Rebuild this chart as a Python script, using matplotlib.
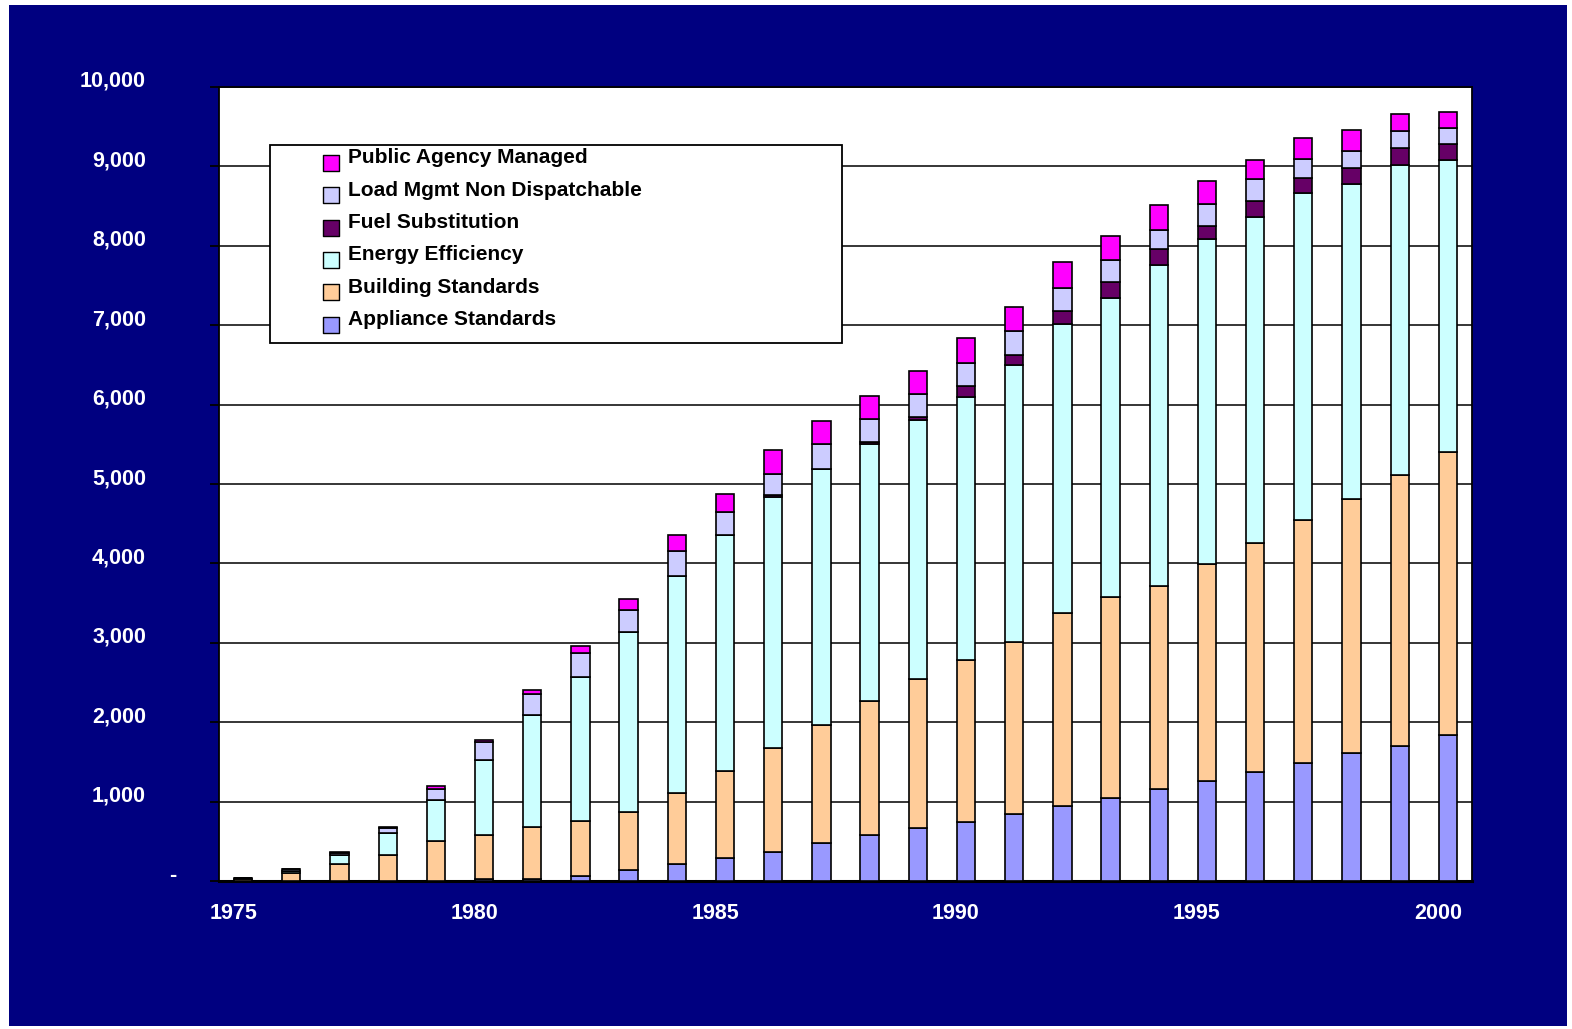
# ========== Librerias ==========
import numpy as np
import matplotlib
matplotlib.use('Agg')
from matplotlib import pyplot as plt
from matplotlib.patches import Rectangle
from matplotlib.lines import Line2D
from matplotlib.path import Path
from matplotlib.markers import MarkerStyle
from matplotlib.transforms import ScaledTranslation

# ========== Datos (MW por año) ==========
years = list(range(1975, 2001))

appliance = [0, 0, 0, 0, 0, 20, 30, 67, 142, 214, 290, 361, 479, 584, 671, 746,
             847, 948, 1040, 1159, 1259, 1378, 1489, 1606, 1703, 1834]
building = [25, 105, 214, 332, 508, 564, 651, 685, 728, 896, 1101, 1316, 1492, 1681,
            1875, 2039, 2168, 2429, 2535, 2556, 2739, 2874, 3062, 3205, 3408, 3563]
efficiency = [10, 25, 118, 273, 509, 946, 1404, 1820, 2265, 2731, 2967, 3158, 3216,
              3235, 3264, 3317, 3484, 3643, 3770, 4048, 4089, 4116, 4110, 3967, 3907, 3686]
fuel = [0, 0, 0, 0, 0, 0, 0, 0, 0, 0, 0, 25, 0, 30, 30, 134, 125, 156, 204, 198,
        168, 195, 195, 208, 215, 195]
load_mgmt = [3, 15, 26, 58, 143, 223, 273, 303, 274, 315, 290, 272, 311, 287, 291,
             288, 298, 294, 273, 239, 273, 273, 240, 208, 208, 208]
public_agency = [4, 12, 12, 13, 33, 29, 42, 83, 138, 198, 232, 290, 290, 294, 294,
                 309, 303, 320, 299, 316, 282, 247, 260, 266, 221, 195]

series_names = ['Appliance Standards', 'Building Standards', 'Energy Efficiency',
                'Fuel Substitution', 'Load Mgmt Non Dispatchable', 'Public Agency Managed']
series_colors = ['#9999FF', '#FFCC99', '#CCFFFF', '#660066', '#CCCCFF', '#FF00FF']

x_tick_years = [1975, 1980, 1985, 1990, 1995, 2000]
y_ticks = list(range(0, 10001, 1000))
y_tick_labels = ['-'] + [f'{v:,}' for v in y_ticks[1:]]

# ========== Figura ==========
plt.rcParams['font.family'] = ['Liberation Sans', 'DejaVu Sans']
plt.rcParams['font.weight'] = 'bold'

W, H = 1572, 1029
fig = plt.figure(figsize=(W / 100, H / 100), dpi=100, facecolor='white')

# fondo azul marino
fig.patches.append(Rectangle((9 / W, 1 - 1026 / H), 1558 / W, 1021 / H,
                             transform=fig.transFigure, facecolor='#000080',
                             edgecolor='none', zorder=-10))

ax = fig.add_axes([219 / W, 1 - 881 / H, 1253 / W, 794 / H])
ax.set_facecolor('white')

# ---------- barras apiladas ----------
stack = [appliance, building, efficiency, fuel, load_mgmt, public_agency]
bottom = np.zeros(len(years))
for vals, name, color in zip(stack, series_names, series_colors):
    ax.bar(years, vals, width=0.38, bottom=bottom, color=color,
           edgecolor='black', linewidth=1.2, label=name, zorder=3)
    bottom += np.array(vals)

# ---------- ejes ----------
ax.set_xlim(1974.5, 2000.5)
ax.set_ylim(0, 10000)
ax.set_yticks(y_ticks, y_tick_labels)
ax.set_xticks(x_tick_years, [str(y) for y in x_tick_years])
ax.yaxis.grid(True, color='black', linewidth=1.1)
ax.set_axisbelow(True)

ax.tick_params(axis='y', direction='out', length=6.5, width=1.3, color='black',
               pad=46, labelsize=15.5, labelcolor='white')
ax.tick_params(axis='x', length=0, pad=16, labelsize=15.5, labelcolor='white')

for s in ax.spines.values():
    s.set_color('black')
    s.set_linewidth(1.3)
ax.spines['bottom'].set_linewidth(2.2)

up = ScaledTranslation(0, 8 / 100, fig.dpi_scale_trans)
ylabels = ax.get_yticklabels()
for lab in ylabels:
    lab.set_transform(lab.get_transform() + up)
    lab.set_fontweight('bold')
ylabels[0].set_transform(ylabels[0].get_transform() + ScaledTranslation(30 / 100, 0, fig.dpi_scale_trans))

left = ScaledTranslation(-10 / 100, 0, fig.dpi_scale_trans)
for lab in ax.get_xticklabels():
    lab.set_transform(lab.get_transform() + left)
    lab.set_fontweight('bold')

# ---------- leyenda ----------
ax.add_patch(Rectangle((270 / W, 1 - 343 / H), 572 / W, 198 / H, transform=fig.transFigure,
                       facecolor='white', edgecolor='black', linewidth=1.3, zorder=4))

# cuadro desplazado hacia abajo respecto al texto
square_low = MarkerStyle(Path([(-0.5, -0.91), (0.5, -0.91), (0.5, 0.09), (-0.5, 0.09), (-0.5, -0.91)],
                              [Path.MOVETO, Path.LINETO, Path.LINETO, Path.LINETO, Path.CLOSEPOLY]))
handles = [Line2D([], [], linestyle='none', marker=square_low, markersize=21,
                  markerfacecolor=c, markeredgecolor='black', markeredgewidth=1.0)
           for c in series_colors]
leg = ax.legend(handles[::-1], series_names[::-1], loc='upper left',
                bbox_to_anchor=(310 / W, 1 - 138 / H), bbox_transform=fig.transFigure,
                frameon=False, borderpad=0, handlelength=1.0, handletextpad=0.32,
                labelspacing=0.64, prop={'size': 15, 'weight': 'bold'})
leg.set_zorder(5)

plt.savefig('out.png', dpi=100, facecolor=fig.get_facecolor())
